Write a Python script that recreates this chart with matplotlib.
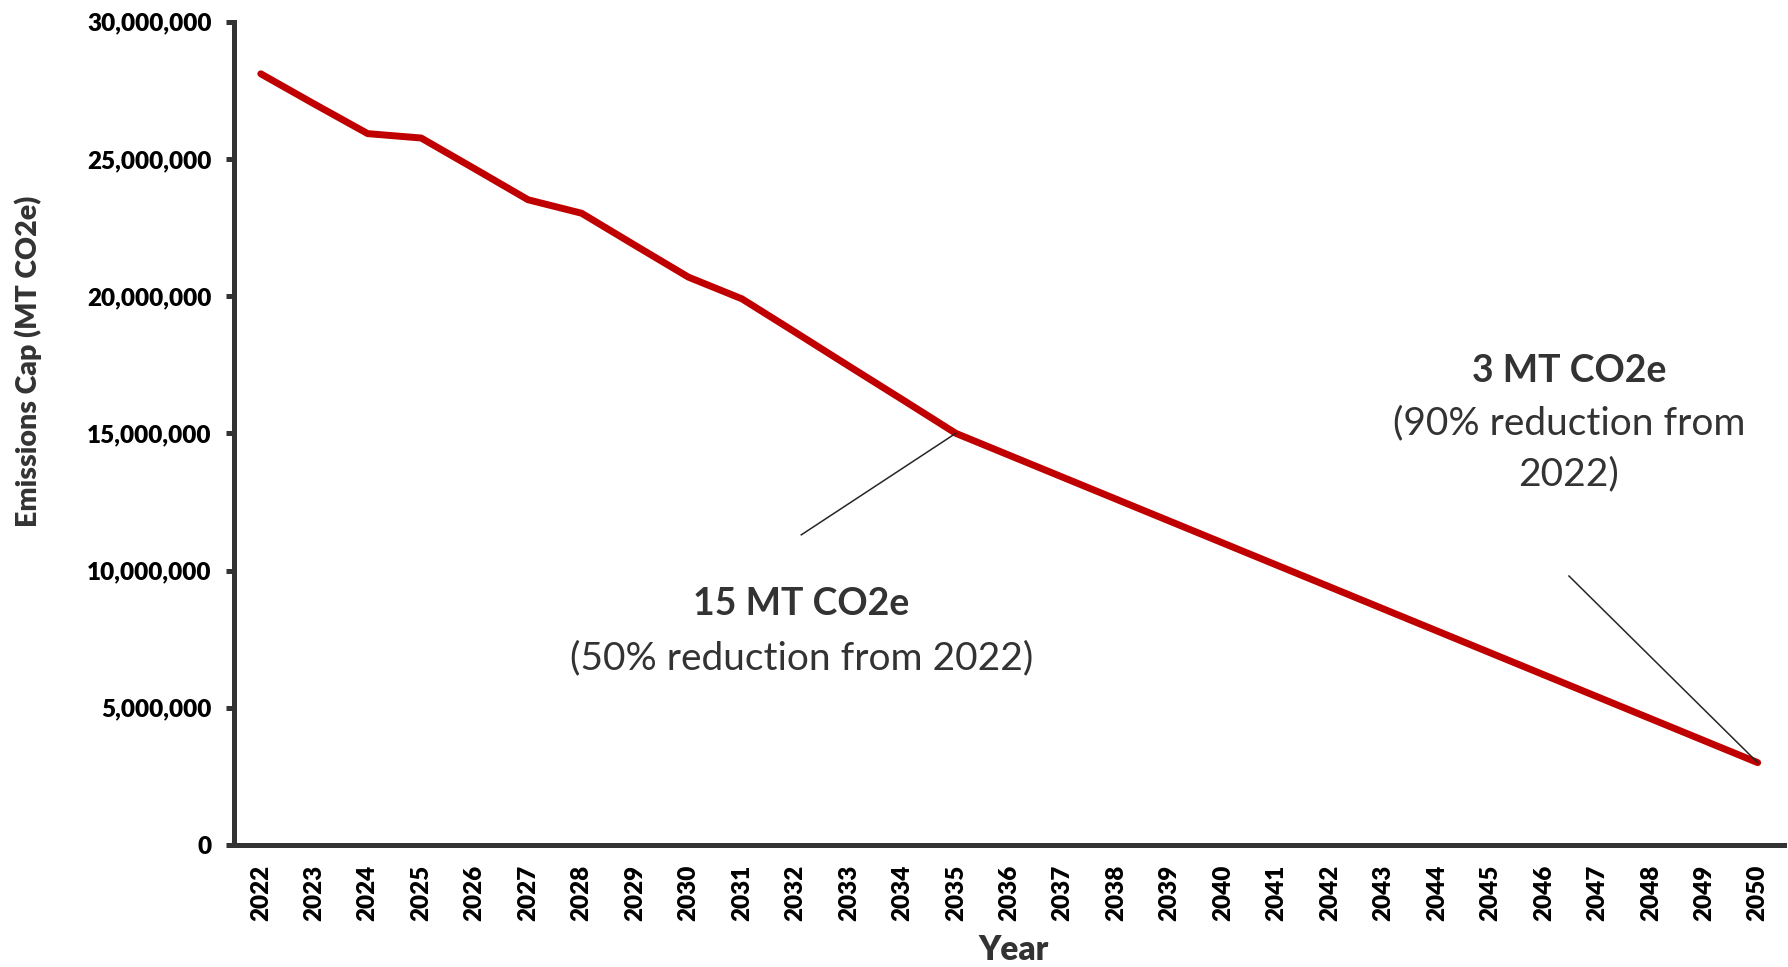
import matplotlib
matplotlib.use("Agg")
import matplotlib.pyplot as plt

plt.rcParams['font.family'] = ['Lato', 'DejaVu Sans']

# Annual emissions cap (MT CO2e)
years = [2022, 2023, 2024, 2025, 2026, 2027, 2028, 2029, 2030, 2031,
         2032, 2033, 2034, 2035, 2036, 2037, 2038, 2039, 2040, 2041,
         2042, 2043, 2044, 2045, 2046, 2047, 2048, 2049, 2050]
cap = [28100000, 27000000, 25920000, 25760000, 24640000, 23510000, 23020000,
       21850000, 20690000, 19900000, 18680000, 17450000, 16230000, 15000000,
       14200000, 13400000, 12600000, 11800000, 11000000, 10200000, 9400000,
       8600000, 7800000, 7000000, 6200000, 5400000, 4600000, 3800000, 3000000]
y_ticks = [0, 5000000, 10000000, 15000000, 20000000, 25000000, 30000000]

# Callouts: marked point, leader-line start, and text lines with their heights
mid_point = (2035, 15000000)
mid_anchor = (2032.11, 11300000)
mid_lines = [("15 MT CO2e", 8770000, 'bold'),
             ("(50% reduction from 2022)", 6810000, 'normal')]

end_point = (2050, 3000000)
end_anchor = (2046.47, 9800000)
end_lines = [("3 MT CO2e", 17280000, 'bold'),
             ("(90% reduction from", 15370000, 'normal'),
             ("2022)", 13500000, 'normal')]

axis_color = "#333333"
text_color = "#333333"
line_color = "#C00000"

fig = plt.figure(figsize=(17.88, 9.67), dpi=100)
ax = fig.add_axes([0.1309, 0.1262, 0.8671, 0.8514])

ax.plot(years, cap, color=line_color, linewidth=5.0, solid_capstyle='round',
        solid_joinstyle='round', zorder=3)

ax.set_xlim(2021.5, 2050.5)
ax.set_ylim(0, 30000000)
ax.set_yticks(y_ticks)
ax.set_yticklabels([f"{v:,}" for v in y_ticks], fontweight='heavy', fontsize=17.5)
ax.set_xticks(years)
ax.set_xticklabels([str(y) for y in years], rotation=90, fontweight='heavy',
                   fontsize=17.5)

for side in ("top", "right"):
    ax.spines[side].set_visible(False)
for side in ("left", "bottom"):
    ax.spines[side].set_color(axis_color)
    ax.spines[side].set_linewidth(3.6)

ax.tick_params(axis='y', direction='out', length=6, width=3.6, color=axis_color,
               labelcolor='black', pad=10)
ax.tick_params(axis='x', length=0, labelcolor='black', pad=14)

ax.set_ylabel("Emissions Cap (MT CO2e)", fontsize=20.5, fontweight='heavy',
              color=text_color)
ax.yaxis.set_label_coords(-0.124, 0.588)
ax.set_xlabel("Year", fontsize=24, fontweight='heavy', color=text_color,
              va='center')
ax.xaxis.set_label_coords(0.5026, -0.1275)

# Leader lines
for anchor, point in ((mid_anchor, mid_point), (end_anchor, end_point)):
    ax.plot([anchor[0], point[0]], [anchor[1], point[1]],
            color="#262626", linewidth=1.1, zorder=4)

# Callout texts
for txt, yv, wt in mid_lines:
    ax.text(mid_anchor[0], yv, txt, ha='center', va='center',
            fontsize=27 if wt == 'bold' else 28, fontweight=wt, color=text_color)
for txt, yv, wt in end_lines:
    ax.text(end_anchor[0], yv, txt, ha='center', va='center',
            fontsize=27 if wt == 'bold' else 28, fontweight=wt, color=text_color)

fig.savefig("out.png", dpi=100, facecolor='white')
